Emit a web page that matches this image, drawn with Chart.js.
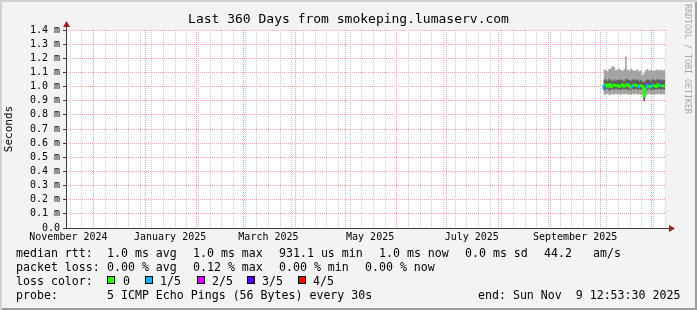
<!DOCTYPE html>
<html>
<head>
<meta charset="utf-8">
<title>smokeping.lumaserv.com - last 360 days</title>
<script src="https://cdn.jsdelivr.net/npm/chart.js@4.4.1/dist/chart.umd.min.js"></script>
<style>
  body { margin: 0; background: #fff; }
  #graph {
    position: relative; width: 697px; height: 310px; overflow: hidden;
    background: #f3f3f3;
    box-shadow: inset 2px 2px 0 #d2d2d2, inset -2px -2px 0 #9c9c9c;
    font-family: 'DejaVu Sans Mono', monospace;
  }
  #graph canvas { position: absolute; left: 0; top: 0; }
  .t { position: absolute; font-size: 11.6px; line-height: 14px; white-space: pre; color: #000; }
  .box { position: absolute; top: 276px; width: 6px; height: 6px; border: 1px solid #000; }
  #rrd {
    position: absolute; left: 683px; top: 4px; writing-mode: vertical-rl;
    font-size: 8.3px; line-height: 10px; color: #a8a8a8; white-space: pre;
  }
</style>
</head>
<body>
<div id="graph">
  <canvas id="smokeChart" width="697" height="310"></canvas>
  <div id="rrd">RRDTOOL / TOBI OETIKER</div>

  <span class="t" style="left:16px;top:246px">median rtt:</span>
  <span class="t" style="left:107px;top:246px">1.0 ms avg</span>
  <span class="t" style="left:193px;top:246px">1.0 ms max</span>
  <span class="t" style="left:279px;top:246px">931.1 us min</span>
  <span class="t" style="left:379px;top:246px">1.0 ms now</span>
  <span class="t" style="left:465px;top:246px">0.0 ms sd</span>
  <span class="t" style="left:544px;top:246px">44.2</span>
  <span class="t" style="left:593px;top:246px">am/s</span>

  <span class="t" style="left:16px;top:260px">packet loss:</span>
  <span class="t" style="left:107px;top:260px">0.00 % avg</span>
  <span class="t" style="left:193px;top:260px">0.12 % max</span>
  <span class="t" style="left:279px;top:260px">0.00 % min</span>
  <span class="t" style="left:365px;top:260px">0.00 % now</span>

  <span class="t" style="left:16px;top:274px">loss color:</span>
  <span class="box" style="left:107px;background:#26ff00"></span>
  <span class="t" style="left:123px;top:274px">0</span>
  <span class="box" style="left:145px;background:#00b8ff"></span>
  <span class="t" style="left:160px;top:274px">1/5</span>
  <span class="box" style="left:197px;background:#d800ff"></span>
  <span class="t" style="left:212px;top:274px">2/5</span>
  <span class="box" style="left:247px;background:#5500ff"></span>
  <span class="t" style="left:262px;top:274px">3/5</span>
  <span class="box" style="left:298px;background:#ff0000"></span>
  <span class="t" style="left:313px;top:274px">4/5</span>

  <span class="t" style="left:16px;top:288px">probe:</span>
  <span class="t" style="left:107px;top:288px">5 ICMP Echo Pings (56 Bytes) every 30s</span>
  <span class="t" style="left:478px;top:288px">end: Sun Nov  9 12:53:30 2025</span>
</div>

<script>
// graph window: 360 days ending at the "end:" stamp
const graphEnd = Date.UTC(2025, 10, 9, 12, 53, 30);
const graphStart = graphEnd - 360 * 86400000;

// one sample per day where the target was measured (values in ms)
const sampleDates = [
  '2025-10-03', '2025-10-04', '2025-10-05', '2025-10-06', '2025-10-07', '2025-10-08', '2025-10-09', '2025-10-10',
  '2025-10-11', '2025-10-12', '2025-10-13', '2025-10-14', '2025-10-15', '2025-10-16', '2025-10-17', '2025-10-18',
  '2025-10-19', '2025-10-20', '2025-10-21', '2025-10-22', '2025-10-23', '2025-10-24', '2025-10-25', '2025-10-26',
  '2025-10-27', '2025-10-28', '2025-10-29', '2025-10-30', '2025-10-31', '2025-11-01', '2025-11-02', '2025-11-03',
  '2025-11-04', '2025-11-05', '2025-11-06', '2025-11-07', '2025-11-08', '2025-11-09'
];
const pingMin = [
  0.935, 0.940, 0.946, 0.950, 0.938, 0.944, 0.948, 0.942, 0.950, 0.944, 0.946, 0.940, 0.948, 0.944, 0.950, 0.942,
  0.946, 0.940, 0.948, 0.944, 0.950, 0.942, 0.946, 0.940, 0.948, 0.892, 0.938, 0.944, 0.950, 0.942, 0.946, 0.940,
  0.948, 0.944, 0.950, 0.942, 0.946, 0.944
];
const pingLow = [
  0.945, 0.972, 0.980, 0.984, 0.970, 0.978, 0.982, 0.975, 0.986, 0.978, 0.980, 0.976, 0.984, 0.980, 0.982, 0.975,
  0.979, 0.972, 0.983, 0.980, 0.985, 0.976, 0.981, 0.977, 0.984, 0.900, 0.968, 0.978, 0.984, 0.974, 0.980, 0.976,
  0.983, 0.979, 0.985, 0.977, 0.981, 0.979
];
const pingMedian = [
  0.978, 1.008, 1.012, 1.000, 1.016, 0.996, 1.010, 1.013, 1.004, 1.010, 0.998, 1.006, 1.015, 1.001, 1.009, 1.016,
  1.002, 0.992, 1.007, 1.013, 1.004, 1.010, 0.997, 1.008, 1.000, 0.932, 0.986, 1.010, 1.003, 0.993, 1.012, 1.006,
  0.998, 1.015, 1.004, 1.010, 1.002, 1.008
];
const pingHigh = [
  1.035, 1.048, 1.052, 1.040, 1.056, 1.044, 1.038, 1.050, 1.042, 1.048, 1.046, 1.052, 1.044, 1.040, 1.054, 1.050,
  1.046, 1.042, 1.048, 1.052, 1.044, 1.050, 1.040, 1.046, 1.036, 1.030, 1.044, 1.050, 1.046, 1.042, 1.052, 1.048,
  1.044, 1.054, 1.046, 1.050, 1.044, 1.048
];
const pingMax = [
  1.098, 1.122, 1.115, 1.108, 1.124, 1.130, 1.146, 1.138, 1.116, 1.120, 1.128, 1.118, 1.112, 1.125, 1.212, 1.120,
  1.114, 1.126, 1.118, 1.110, 1.116, 1.122, 1.108, 1.114, 1.082, 1.096, 1.118, 1.124, 1.112, 1.120, 1.116, 1.110,
  1.118, 1.122, 1.114, 1.120, 1.116, 1.118
];
// lost pings out of 5 per sample
const pingLoss = [
  1, 0, 0, 0, 0, 0, 0, 0, 0, 0, 0, 0, 0, 0, 0, 0,
  0, 1, 0, 0, 0, 1, 0, 0, 0, 0, 1, 0, 0, 1, 0, 0,
  0, 0, 1, 0, 0, 0
];
const lossColors = ['#26ff00', '#00b8ff', '#d800ff', '#5500ff', '#ff0000'];

const yTickValues = [0, 0.1, 0.2, 0.3, 0.4, 0.5, 0.6, 0.7, 0.8, 0.9, 1.0, 1.1, 1.2, 1.3, 1.4];
const yTickLabels = ['0.0', '0.1 m', '0.2 m', '0.3 m', '0.4 m', '0.5 m', '0.6 m', '0.7 m',
  '0.8 m', '0.9 m', '1.0 m', '1.1 m', '1.2 m', '1.3 m', '1.4 m'];
const monthLabels = ['November 2024', 'January 2025', 'March 2025', 'May 2025', 'July 2025', 'September 2025'];
// rrdtool centres a month label in the middle of its month
const monthLabelDates = ['2024-11-16', '2025-01-16', '2025-03-16', '2025-05-16', '2025-07-16', '2025-09-16'];

const day = 86400000;
const toMs = d => Date.parse(d + 'T00:00:00Z');

// grid positions: month starts (major) and sundays (minor)
const monthTicks = [];
for (let m = new Date(Date.UTC(2024, 11, 1)); m.getTime() < graphEnd; m.setUTCMonth(m.getUTCMonth() + 1)) {
  monthTicks.push(m.getTime());
}
const weekTicks = [];
for (let w = Date.UTC(2024, 10, 17); w < graphEnd; w += 7 * day) weekTicks.push(w);

const series = arr => sampleDates.map((d, i) => ({ x: toMs(d), y: arr[i] }));

const frame = {
  id: 'frame',
  beforeDraw(chart) {
    const { ctx, chartArea: a } = chart;
    ctx.save();
    ctx.fillStyle = '#ffffff';
    ctx.fillRect(a.left, a.top, a.right - a.left, a.bottom - a.top);
    ctx.restore();
  },
  afterDraw(chart) {
    const { ctx, chartArea: a } = chart;
    const x0 = Math.round(a.left) + 0.5;
    const y0 = Math.round(a.bottom) + 0.5;
    ctx.save();
    ctx.strokeStyle = '#3c3c3c';
    ctx.lineWidth = 1;
    ctx.beginPath();
    ctx.moveTo(x0, y0);
    ctx.lineTo(x0, a.top - 4);
    ctx.moveTo(x0 - 1, y0);
    ctx.lineTo(a.right + 3, y0);
    ctx.stroke();
    ctx.fillStyle = '#9e1f1f';
    ctx.beginPath();
    ctx.moveTo(x0, a.top - 9);
    ctx.lineTo(x0 - 3.5, a.top - 3);
    ctx.lineTo(x0 + 3.5, a.top - 3);
    ctx.closePath();
    ctx.fill();
    ctx.beginPath();
    ctx.moveTo(a.right + 9, y0);
    ctx.lineTo(a.right + 3, y0 - 3.5);
    ctx.lineTo(a.right + 3, y0 + 3.5);
    ctx.closePath();
    ctx.fill();
    ctx.restore();
  }
};

Chart.defaults.font.family = "'DejaVu Sans Mono', monospace";
Chart.defaults.color = '#000';

const ctx = document.getElementById('smokeChart').getContext('2d');
const smokeChart = new Chart(ctx, {
  type: 'line',
  data: {
    datasets: [
      { label: 'ping 1', data: series(pingMin), borderColor: 'transparent', borderWidth: 0, fill: false, order: 3 },
      { label: 'ping 5', data: series(pingMax), borderColor: 'transparent', borderWidth: 0,
        fill: '-1', backgroundColor: '#a4a4a4', order: 3 },
      { label: 'ping 2', data: series(pingLow), borderColor: 'transparent', borderWidth: 0, fill: false, order: 2 },
      { label: 'ping 4', data: series(pingHigh), borderColor: 'transparent', borderWidth: 0,
        fill: '-1', backgroundColor: '#5e5e5e', order: 2 },
      { label: 'median rtt', data: series(pingMedian), borderWidth: 2, fill: false, order: 1,
        borderColor: lossColors[0],
        segment: { borderColor: c => lossColors[pingLoss[c.p0DataIndex]] } }
    ]
  },
  options: {
    responsive: false,
    animation: false,
    devicePixelRatio: 1,
    elements: { point: { radius: 0 }, line: { stepped: 'after', tension: 0 } },
    plugins: {
      legend: { display: false },
      tooltip: { enabled: false },
      title: {
        display: true,
        text: 'Last 360 Days from smokeping.lumaserv.com',
        font: { size: 13, weight: 'normal', lineHeight: '16px' },
        padding: { top: 12, bottom: 2 }
      }
    },
    scales: {
      xWeek: {
        type: 'linear', axis: 'x', position: 'bottom', min: graphStart, max: graphEnd,
        afterBuildTicks: s => { s.ticks = weekTicks.map(v => ({ value: v })); },
        afterFit: s => { s.height = 0; },
        ticks: { display: false, autoSkip: false },
        grid: { color: '#cdcdcd', drawTicks: false },
        border: { display: false, dash: [1, 1] }
      },
      xMonth: {
        type: 'linear', axis: 'x', position: 'bottom', min: graphStart, max: graphEnd,
        afterBuildTicks: s => { s.ticks = monthTicks.map(v => ({ value: v })); },
        afterFit: s => { s.height = 0; },
        ticks: { display: false, autoSkip: false },
        grid: { color: '#eea4a4', drawTicks: false },
        border: { display: false, dash: [1, 1] }
      },
      x: {
        type: 'linear', position: 'bottom', min: graphStart, max: graphEnd,
        afterBuildTicks: s => { s.ticks = monthLabelDates.map(d => ({ value: toMs(d) })); },
        afterFit: s => { s.height = 82; },
        ticks: {
          autoSkip: false, maxRotation: 0, padding: 3,
          font: { size: 10 },
          callback: (v, i) => monthLabels[i]
        },
        grid: { display: false, drawTicks: false },
        border: { display: false }
      },
      y: {
        type: 'linear', position: 'left', min: 0, max: 1.4,
        afterBuildTicks: s => { s.ticks = yTickValues.map(v => ({ value: v })); },
        afterFit: s => { s.width = 66; },
        ticks: {
          autoSkip: false, padding: 3,
          font: { size: 10 },
          callback: (v, i) => yTickLabels[i]
        },
        grid: { color: '#eea4a4', tickColor: '#3c3c3c', tickLength: 3 },
        border: { display: false, dash: [1, 1] },
        title: {
          display: true, text: 'Seconds',
          font: { size: 11 },
          padding: { top: 3, bottom: 0 }
        }
      },
      yPad: {
        type: 'linear', axis: 'y', position: 'right',
        afterFit: s => { s.width = 31; },
        ticks: { display: false },
        grid: { display: false },
        border: { display: false }
      }
    }
  },
  plugins: [frame]
});
</script>
</body>
</html>
